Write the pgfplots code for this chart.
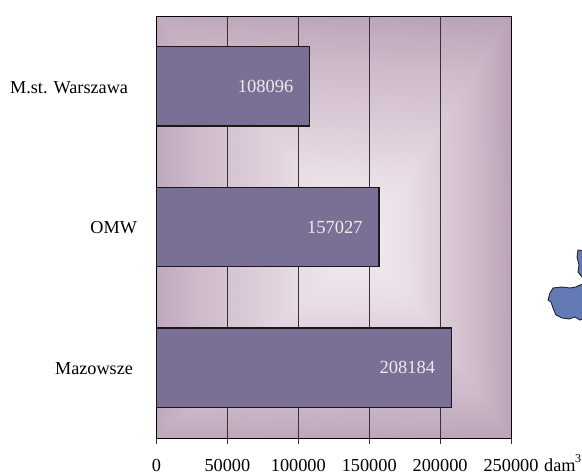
\documentclass[border=0pt]{standalone}
\usepackage{fontspec}
\setmainfont{Liberation Serif}
\usepackage{pgfplots}
\pgfplotsset{compat=1.18}
\definecolor{barc}{RGB}{122,112,149}
\definecolor{mapc}{RGB}{100,122,180}
\begin{document}
\begin{tikzpicture}[x=1bp,y=1bp]
\path[use as bounding box] (0,0) rectangle (582,475);
\begin{axis}[at={(156.5bp,37bp)},anchor=south west,width=354.5bp,height=422bp,scale only axis,
  xmin=0,xmax=1,ymin=0,ymax=1,axis lines=none,point meta min=0,point meta max=1,
  colormap={bgmap}{rgb255(0cm)=(186,161,182) rgb255(1cm)=(205,186,203) rgb255(2cm)=(220,204,216) rgb255(3cm)=(235,224,232) rgb255(4cm)=(242,234,240)}]
\addplot[patch,shader=interp,point meta=explicit] coordinates {
(0,0)[0.08] (1,0)[0.03] (0.6,0.47)[1]
(1,0)[0.03] (1,1)[0] (0.6,0.47)[1]
(1,1)[0] (0,1)[0.08] (0.6,0.47)[1]
(0,1)[0.08] (0,0)[0.08] (0.6,0.47)[1]
};
\end{axis}
\begin{axis}[at={(156.5bp,37bp)},anchor=south west,width=354.5bp,height=422bp,scale only axis,
  xmin=0,xmax=250000,ymin=-0.5,ymax=2.5,
  xbar,bar width=79.5bp,
  xtick={0,50000,100000,150000,200000,250000},
  ytick={0,1,2},yticklabels={Mazowsze\kern4bp,OMW,M.st. Warszawa\kern9bp},
  scaled x ticks=false,
  /pgf/number format/assume math mode=true,
  /pgf/number format/1000 sep={},
  /pgf/number format/fixed,
  xmajorgrids,
  major grid style={black!80,line width=0.8bp},
  axis line style={black,line width=0.8bp},
  xtick style={black!80,line width=0.8bp},
  major tick length=6bp,
  tick align=outside,
  ytick style={draw=none},
  x tick label style={font=\fontsize{18.3bp}{18bp}\selectfont,anchor=base,yshift=-28bp,text height=0pt},
  y tick label style={font=\fontsize{18.2bp}{18bp}\selectfont,anchor=base east,xshift=-10bp,yshift=-7bp},
  xtick pos=bottom,ytick pos=left,
  nodes near coords,
  point meta=x,
  nodes near coords style={font=\fontsize{18.5bp}{18bp}\selectfont,text=white!92!black,anchor=east,xshift=-12.5bp,/pgf/number format/precision=0,/pgf/number format/fixed,/pgf/number format/1000 sep={}},
  clip=false]
\addplot[fill=barc,draw=black!90,line width=1.4bp,bar shift=0pt] coordinates {(208184,0) (157027,1) (108096,2)};
\end{axis}
\node[anchor=base west,font=\fontsize{18.3bp}{18bp}\selectfont,inner sep=0pt] at (544,3) {dam};
\node[anchor=base west,font=\fontsize{12bp}{12bp}\selectfont,inner sep=0pt] at (575,12) {3};
\begin{scope}
\clip (0,0) rectangle (582,475);
\fill[fill=mapc,draw=black!85,line width=0.9bp,y=-1bp,shift={(0,-475)}]
 (548,300) -- (550,293) -- (553,288) -- (562,287) -- (570,288) -- (576,287) -- (580,285) -- (584,284) -- (584,318) -- (580,320) -- (575,317) -- (569,319) -- (562,318) -- (556,315) -- (553,308) -- (551,302) -- cycle
 (584,251) -- (578,250) -- (577,257) -- (579,265) -- (578,272) -- (582,277) -- (584,276) -- cycle;
\end{scope}
\end{tikzpicture}
\end{document}
